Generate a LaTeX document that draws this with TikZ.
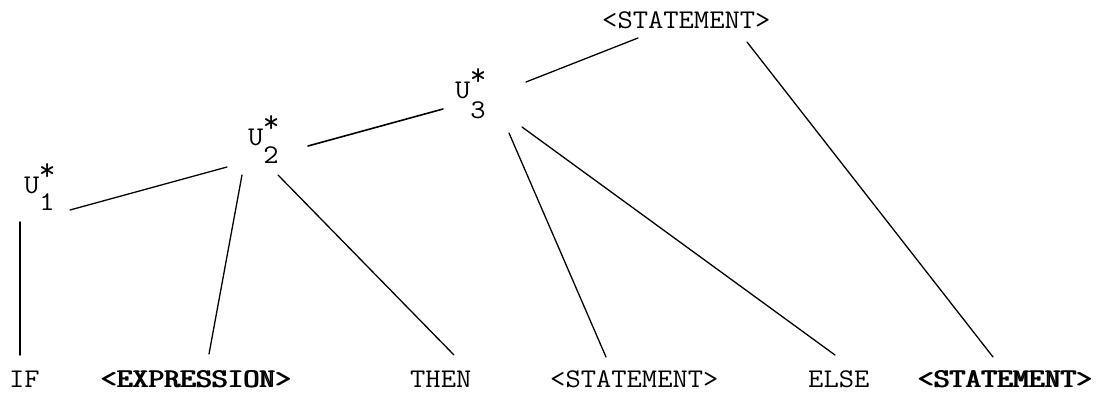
\documentclass[tikz,border=0pt]{standalone}
\usepackage{graphicx}
\usepackage{fontspec}
\usetikzlibrary{calc}
\newcommand{\tw}[1]{\scalebox{1.1}[1]{#1}}
\newcommand{\ovs}[1]{\scalebox{1.14}[1]{\rlap{#1}\kern1.3pt #1}}
\newcommand{\ustar}[3]{\tw{U}\rlap{\makebox[15.6pt]{\raisebox{13pt}{\scalebox{1.2}{*}}}}\raisebox{-#2pt}{\tw{#1}}}
\begin{document}
\begin{tikzpicture}[x=1pt,y=-1pt,
  lbl/.style={inner sep=0pt, anchor=base west, font=\ttfamily\fontsize{27}{31}\selectfont},
  edge/.style={line width=1.3pt, line cap=round}]
\useasboundingbox (0,0) rectangle (1101,402);
\fill[white] (0,0) rectangle (1101,402);
% inner nodes
\node[lbl] (top) at (602,28) {\tw{<STATEMENT>}};
\node[lbl] (u3) at (455,98) {\ustar{3}{20}{}};
\node[lbl] (u2) at (248,145) {\ustar{2}{18}{}};
\node[lbl] (u1) at (24,193) {\ustar{1}{17}{}};
% leaves
\node[lbl] (if) at (9,387) {\tw{IF}};
\node[lbl] (expr) at (100,387) {\ovs{<EXPRESSION>}};
\node[lbl] (then) at (410,387) {\tw{THEN}};
\node[lbl] (st1) at (550,387) {\tw{<STATEMENT>}};
\node[lbl] (else) at (808,387) {\tw{ELSE}};
\node[lbl] (st2) at (917,387) {\ovs{<STATEMENT>}};
% connectors
\draw[edge, line width=1.8pt] ($(u1.base west)+(-4,29)$) -- ($(if.base west)+(11,-32)$);
\draw[edge] ($(u1.base west)+(46,17)$) -- ($(u2.base west)+(-21,22)$);
\draw[edge] ($(u2.base west)+(-6,30)$) -- ($(expr.base west)+(109,-33)$);
\draw[edge] ($(u2.base west)+(30,30)$) -- ($(then.base west)+(44,-32)$);
\draw[edge, line width=1.6pt] ($(u2.base west)+(60,1)$) -- ($(u3.base west)+(-12,11)$);
\draw[edge] ($(u3.base west)+(71,-16)$) -- ($(top.base west)+(36,10)$);
\draw[edge] ($(u3.base west)+(54,35)$) -- ($(st1.base west)+(56,-30)$);
\draw[edge] ($(u3.base west)+(67,29)$) -- ($(else.base west)+(27,-32)$);
\draw[edge] ($(top.base west)+(145,14)$) -- ($(st2.base west)+(76,-30)$);
\end{tikzpicture}
\end{document}
